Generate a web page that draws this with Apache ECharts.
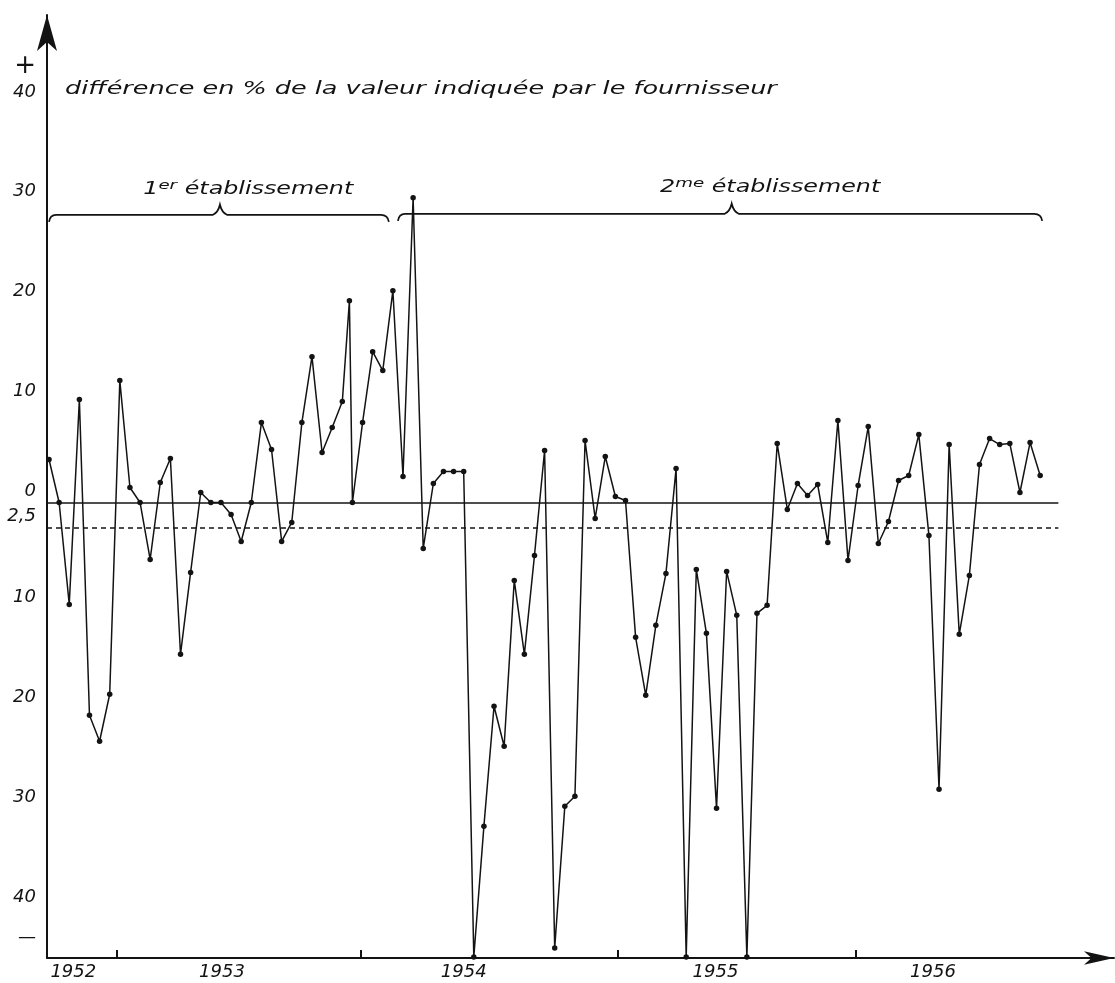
<!DOCTYPE html>
<html><head><meta charset="utf-8">
<script src="https://cdn.jsdelivr.net/npm/echarts@6/dist/echarts.min.js"></script>
<style>html,body{margin:0;padding:0;background:#fff}#c{width:1115px;height:983px}</style>
</head><body><div id="c"></div>
<script>
// sample positions (order of deliveries; two samples share nearly the same place after the 1953 peak)
const samplePos = [0,1,2,3,4,5,6,7,8,9,10,11,12,13,14,15,16,17,18,19,20,21,22,23,24,25,26,27,28,29,
  29.7,30,31,32,33,34,35,36,37,38,39,40,41,42,43,44,45,46,47,48,49,50,51,52,53,54,55,56,57,58,59,
  60,61,62,63,64,65,66,67,68,69,70,71,72,73,74,75,76,77,78,79,80,81,82,83,84,85,86,87,88,89,90,
  91,92,93,94,95,96,97,98];
// difference in % from the value stated by the supplier
const diffPct = [4.3,0,-10.2,10.3,-21.3,-23.9,-19.2,12.2,1.5,0,-5.7,2.0,4.4,-15.2,-7.0,1.0,0,0,-1.2,-3.9,
  0,8.0,5.3,-3.9,-2.0,8.0,14.6,5.0,7.5,10.1,
  20.2,0,
  8.0,15.1,13.2,21.2,2.6,30.5,-4.6,1.9,3.1,3.1,3.1,-45.5,-32.4,-20.4,-24.4,-7.8,-15.2,-5.3,5.2,
  -44.6,-30.4,-29.4,6.2,-1.6,4.6,0.6,0.2,-13.5,-19.3,-12.3,-7.1,3.4,-45.5,-6.7,-13.1,-30.6,-6.9,
  -11.3,-45.5,-11.1,-10.3,5.9,-0.7,1.9,0.7,1.8,-4.0,8.2,-5.8,1.7,7.6,-4.1,-1.9,2.2,2.7,6.8,-3.3,
  -28.7,5.8,-13.2,-7.3,3.8,6.4,5.8,5.9,1.0,6.0,2.7];
const yTickValues = [-44,-40,-30,-20,-10,-2.5,0,10,20,30,40,44];
const yearLabels = ['1952','1953','1954','1955','1956'];
const yearLabelPos = [2.4,17.1,41,65.9,87.4];
const yearBoundaries = [6.7,30.8,56.2,79.8];
const toleranceLine = -2.5;
const refLineEnd = 99.8;
const titleText = 'différence en % de la valeur indiquée par le fournisseur';
// brackets: [from, to, peak, level, labelX, labelY]
const bracketData = [[0.0,33.6,16.9,28.8,19.7,31.3],[34.5,98.2,67.5,28.9,71.3,31.5]];
const bracketLabels = [['1','er',' établissement'],['2','me',' établissement']];

const FONT = 'DejaVu Sans';
const INK = '#131313';
const X_MIN = -0.2, X_MAX = 105.3, Y_MIN = -45.6, Y_MAX = 48.8;

const chart = echarts.init(document.getElementById('c'), null, {renderer:'canvas'});
chart.setOption({
  animation:false,
  backgroundColor:'#fff',
  grid:{left:47,right:1,top:15,bottom:25,containLabel:false},
  xAxis:{type:'value',min:X_MIN,max:X_MAX,
    axisLine:{onZero:false,lineStyle:{color:INK,width:2},symbol:['none','arrow'],symbolSize:[10,30]},
    axisTick:{show:true,customValues:yearBoundaries,inside:true,length:8,lineStyle:{color:INK,width:2}},
    axisLabel:{customValues:yearLabelPos,margin:5,color:INK,fontFamily:FONT,fontStyle:'italic',fontSize:18,
      formatter:v=>{const i=yearLabelPos.indexOf(v);return i>=0?yearLabels[i]:'';}},
    splitLine:{show:false}},
  yAxis:{type:'value',min:Y_MIN,max:Y_MAX,
    axisLine:{show:true,onZero:false,lineStyle:{color:INK,width:2},symbol:['none','arrow'],symbolSize:[15,36]},
    axisTick:{show:false},
    axisLabel:{customValues:yTickValues,margin:11,color:INK,fontFamily:FONT,fontStyle:'italic',fontSize:18,
      formatter:v=>{
        if(v===44) return '{p|+}';
        if(v===-44) return '{l|—}';
        if(v===-2.5) return '{u|2,5}';
        return v<0?'{l|'+Math.abs(v)+'}':'{u|'+v+'}';
      },
      rich:{
        u:{fontFamily:FONT,fontStyle:'italic',fontSize:18,color:INK,padding:[0,0,22,0]},
        l:{fontFamily:FONT,fontStyle:'italic',fontSize:18,color:INK,padding:[0,0,10,0]},
        p:{fontFamily:FONT,fontSize:26,color:INK,padding:[6,0,0,0]}
      }},
    splitLine:{show:false}},
  graphic:[{type:'text',x:65,y:90,scaleX:1.5,
    style:{text:titleText,font:'italic 17px "'+FONT+'"',fill:INK,textVerticalAlign:'middle'}}],
  series:[
    {type:'line',data:samplePos.map((x,i)=>[x,diffPct[i]]),symbol:'circle',symbolSize:5.5,
      itemStyle:{color:INK},lineStyle:{color:INK,width:1.5},z:3,
      markLine:{silent:true,symbol:['none','none'],label:{show:false},
        data:[
          [{coord:[X_MIN,0],lineStyle:{type:'solid',color:INK,width:1.5}},{coord:[refLineEnd,0]}],
          [{coord:[X_MIN,toleranceLine],lineStyle:{type:[5,4],color:INK,width:1.5}},{coord:[refLineEnd,toleranceLine]}]
        ]}},
    {type:'custom',data:bracketData,z:4,silent:true,
      renderItem:(params,api)=>{
        const a=api.coord([api.value(0),api.value(3)]);
        const b=api.coord([api.value(1),api.value(3)]);
        const p=api.coord([api.value(2),api.value(3)]);
        const t=api.coord([api.value(4),api.value(5)]);
        const y=a[1];
        const d='M'+a[0]+' '+(y+7)+' Q'+(a[0]+1)+' '+y+' '+(a[0]+7)+' '+y+
          ' L'+(p[0]-7)+' '+y+' Q'+(p[0]-2)+' '+(y-2)+' '+p[0]+' '+(y-10)+
          ' Q'+(p[0]+2)+' '+(y-2)+' '+(p[0]+7)+' '+y+
          ' L'+(b[0]-8)+' '+y+' Q'+(b[0]-1)+' '+y+' '+b[0]+' '+(y+7);
        const lab=bracketLabels[params.dataIndex];
        return {type:'group',children:[
          {type:'path',shape:{pathData:d},style:{stroke:INK,fill:null,lineWidth:1.8}},
          {type:'text',x:t[0],y:t[1],scaleX:1.4,
            style:{text:'{n|'+lab[0]+'}{s|'+lab[1]+'}{n|'+lab[2]+'}',
              rich:{n:{fontFamily:FONT,fontStyle:'italic',fontSize:17,fill:INK,lineHeight:22},
                    s:{fontFamily:FONT,fontStyle:'italic',fontSize:13,fill:INK,padding:[0,0,9,0]}},
              textAlign:'center',textVerticalAlign:'middle'}}
        ]};
      }}
  ]
});
</script></body></html>
